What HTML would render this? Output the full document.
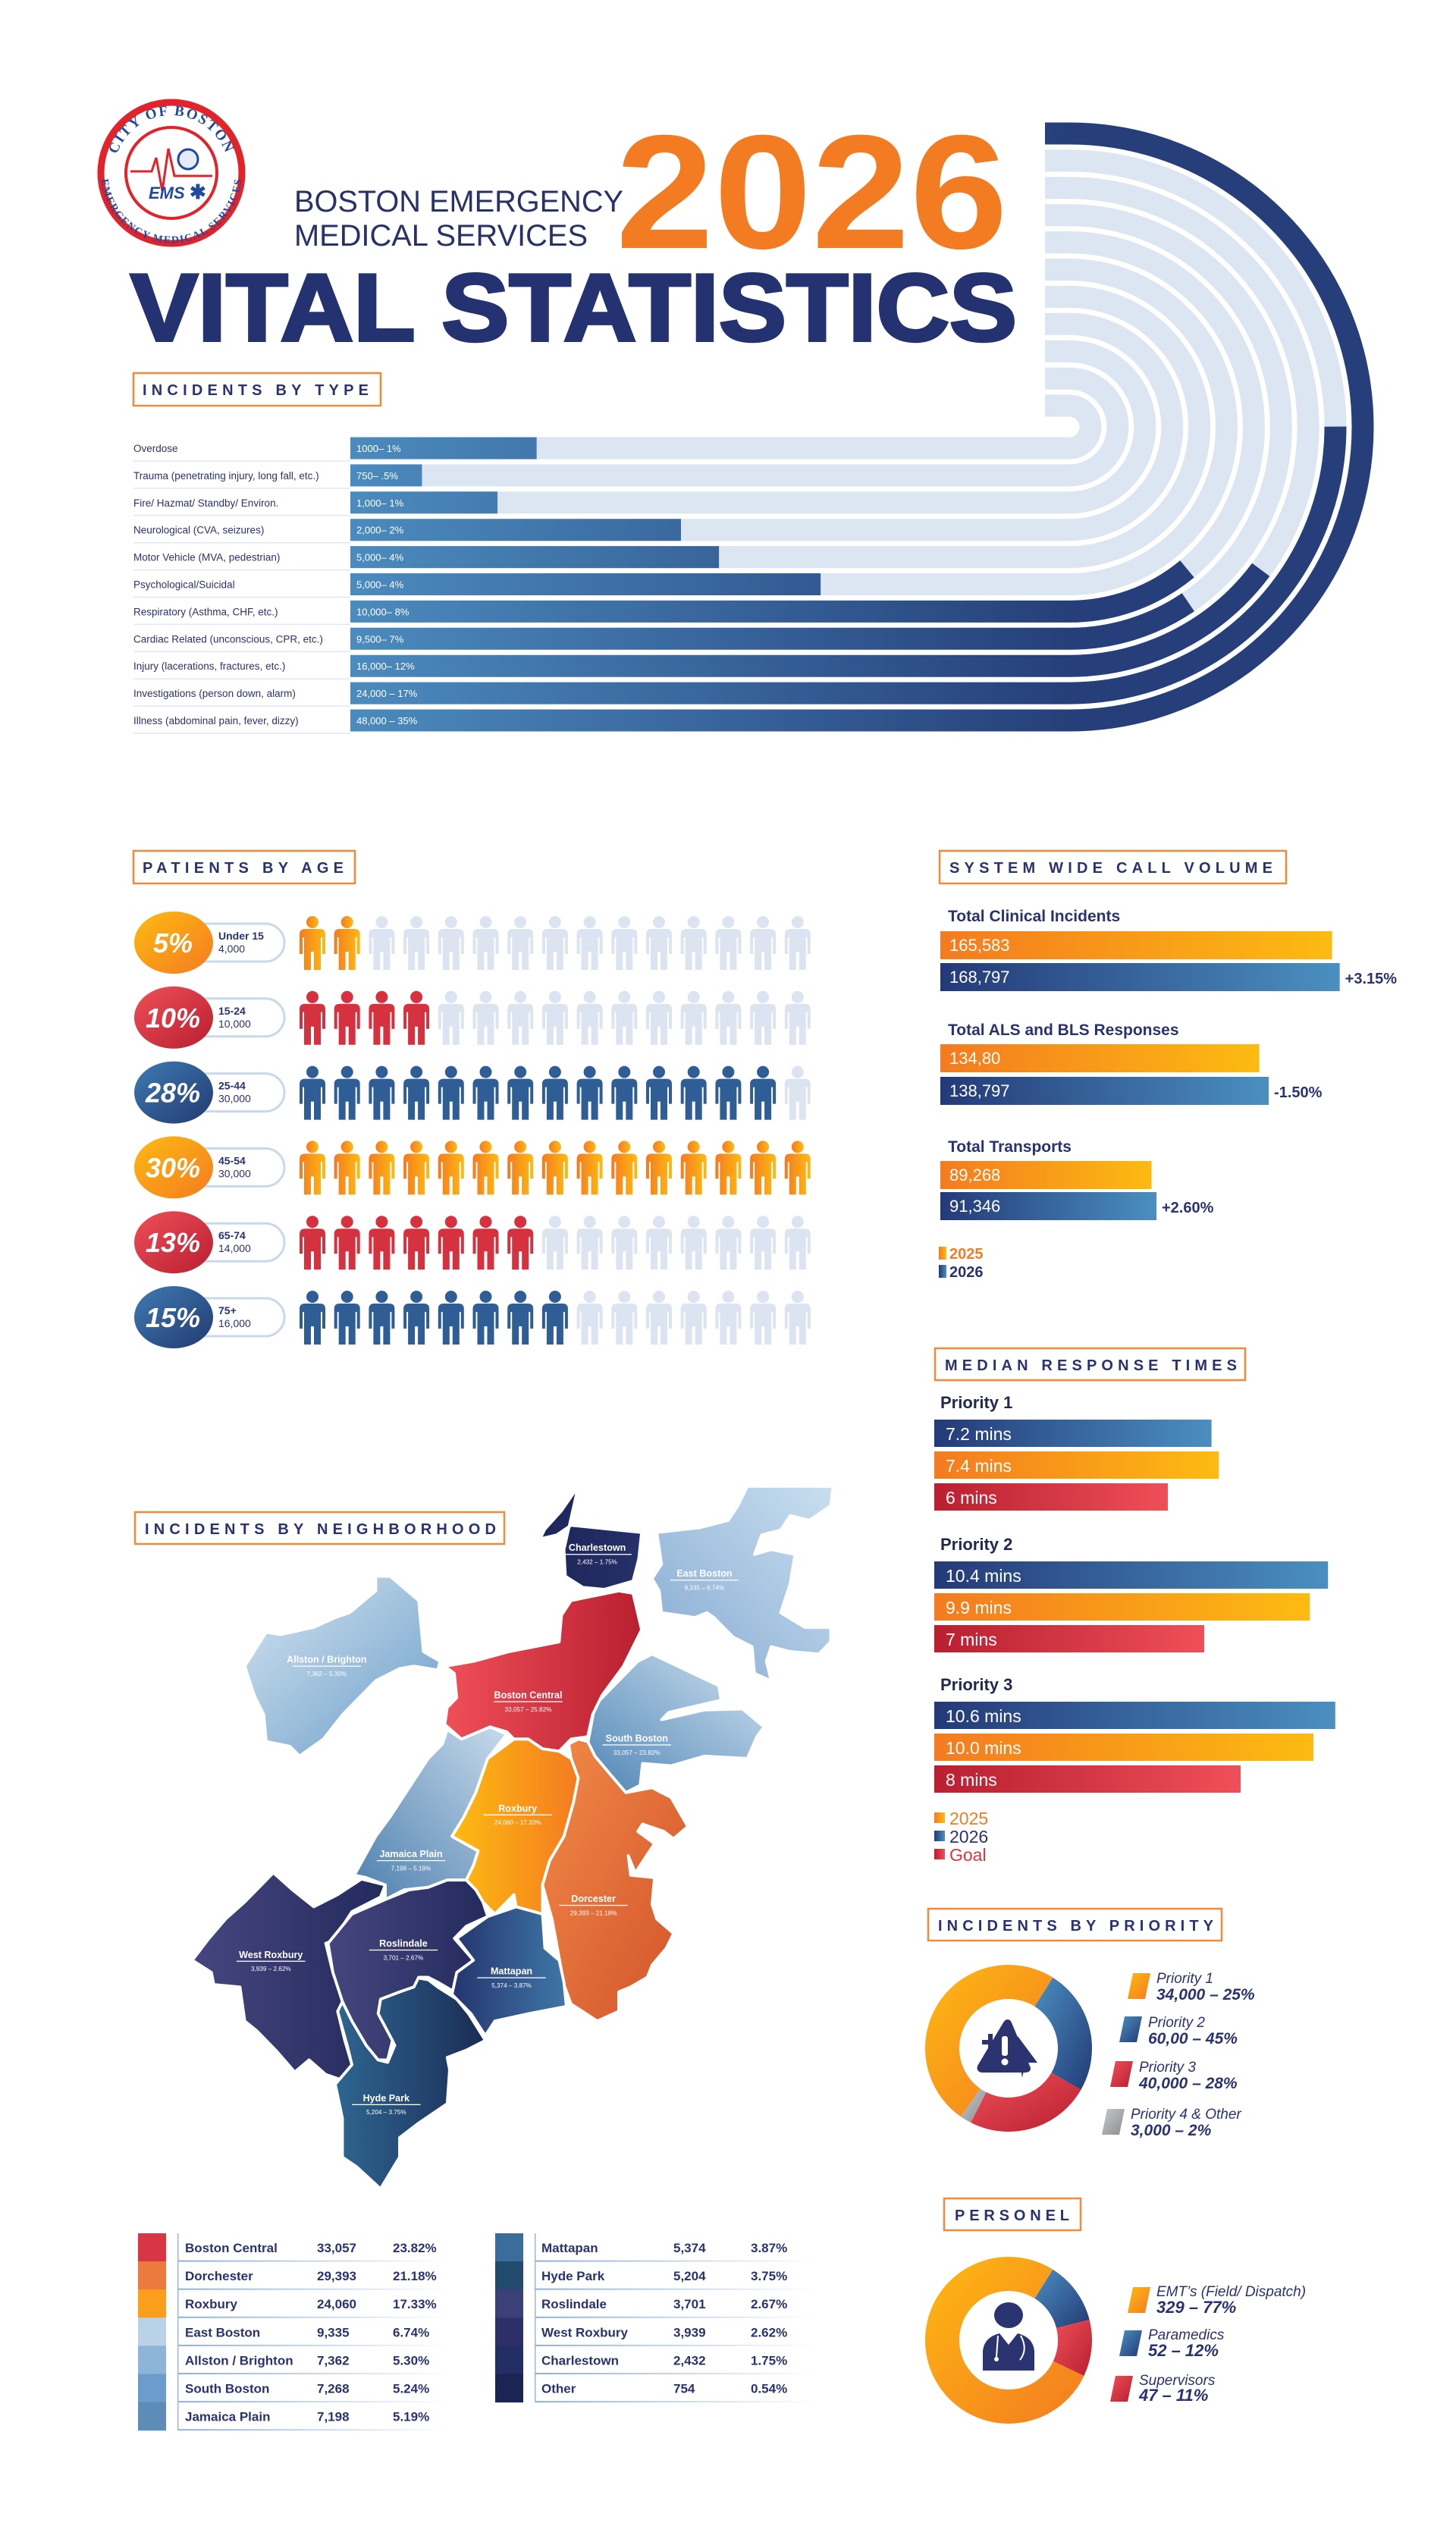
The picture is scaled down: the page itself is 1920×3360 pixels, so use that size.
<!DOCTYPE html>
<html><head><meta charset="utf-8"><title>Boston EMS 2026 Vital Statistics</title>
<style>
html,body{margin:0;padding:0;background:#fff;}
svg{display:block;font-family:"Liberation Sans",sans-serif;}
</style></head>
<body>
<svg id="root" xmlns="http://www.w3.org/2000/svg" width="1920" height="3360" viewBox="0 0 1920 3360">
<defs>
  <linearGradient id="gInc" gradientUnits="userSpaceOnUse" x1="462" y1="0" x2="1410" y2="0"><stop offset="0" stop-color="#4b8bbe"/><stop offset="1" stop-color="#263f7a"/></linearGradient>
  <linearGradient id="gBlue" x1="0" y1="0" x2="1" y2="0"><stop offset="0" stop-color="#243a78"/><stop offset="1" stop-color="#4b8fc0"/></linearGradient>
  <linearGradient id="gOrange" x1="0" y1="0" x2="1" y2="0"><stop offset="0" stop-color="#f47b20"/><stop offset="1" stop-color="#fdbb12"/></linearGradient>
  <linearGradient id="gRed" x1="0" y1="0" x2="1" y2="0"><stop offset="0" stop-color="#b91f30"/><stop offset="1" stop-color="#ef4f58"/></linearGradient>
  <linearGradient id="gOrangeD" x1="0" y1="0" x2="1" y2="1"><stop offset="0" stop-color="#fdb913"/><stop offset="1" stop-color="#f47b20"/></linearGradient>
  <linearGradient id="gBlueD" x1="0" y1="0" x2="1" y2="1"><stop offset="0" stop-color="#4b8fc0"/><stop offset="1" stop-color="#233a76"/></linearGradient>
  <linearGradient id="gRedD" x1="0" y1="0" x2="1" y2="1"><stop offset="0" stop-color="#ef4f58"/><stop offset="1" stop-color="#b91f30"/></linearGradient>
  <linearGradient id="gGrey" x1="0" y1="0" x2="1" y2="1"><stop offset="0" stop-color="#c8c9cc"/><stop offset="1" stop-color="#8a8c90"/></linearGradient>
  <linearGradient id="gCircOr" x1="0" y1="0" x2="1" y2="1"><stop offset="0" stop-color="#fdbb12"/><stop offset="1" stop-color="#f47b20"/></linearGradient>
  <linearGradient id="gCircRed" x1="0" y1="0" x2="1" y2="1"><stop offset="0" stop-color="#ef4f58"/><stop offset="1" stop-color="#b91f30"/></linearGradient>
  <linearGradient id="gCircBlue" x1="0" y1="0" x2="1" y2="1"><stop offset="0" stop-color="#3f7bb2"/><stop offset="1" stop-color="#223a72"/></linearGradient>
  <linearGradient id="mLight" x1="0" y1="0" x2="1" y2="1"><stop offset="0" stop-color="#d4e4f1"/><stop offset="1" stop-color="#6a9dc8"/></linearGradient>
  <linearGradient id="mEast" x1="1" y1="0" x2="0" y2="1"><stop offset="0" stop-color="#c9dff0"/><stop offset="1" stop-color="#86aad2"/></linearGradient>
  <linearGradient id="mSouth" x1="1" y1="0" x2="0" y2="1"><stop offset="0" stop-color="#cfe1f0"/><stop offset="1" stop-color="#4f86b6"/></linearGradient>
  <linearGradient id="mRed" x1="0" y1="0" x2="1" y2="0"><stop offset="0" stop-color="#ef4f58"/><stop offset="1" stop-color="#b91f30"/></linearGradient>
  <linearGradient id="mRox" x1="0" y1="0" x2="1" y2="0"><stop offset="0" stop-color="#fdbb12"/><stop offset="1" stop-color="#f47b20"/></linearGradient>
  <linearGradient id="mDor" x1="0" y1="0" x2="1" y2="1"><stop offset="0" stop-color="#f28a48"/><stop offset="1" stop-color="#d2522a"/></linearGradient>
  <linearGradient id="mJP" x1="1" y1="0" x2="0" y2="1"><stop offset="0" stop-color="#c7dbec"/><stop offset="1" stop-color="#4d7fae"/></linearGradient>
  <linearGradient id="mNavy" x1="0" y1="0" x2="1" y2="0"><stop offset="0" stop-color="#46467e"/><stop offset="1" stop-color="#232a5c"/></linearGradient>
  <linearGradient id="mHyde" x1="0" y1="0" x2="1" y2="0"><stop offset="0" stop-color="#2e6690"/><stop offset="1" stop-color="#1a2c55"/></linearGradient>
  <linearGradient id="mMatt" x1="0" y1="0" x2="1" y2="0"><stop offset="0" stop-color="#24346e"/><stop offset="1" stop-color="#3f78a8"/></linearGradient>
  <linearGradient id="mCharl" x1="0" y1="0" x2="1" y2="0"><stop offset="0" stop-color="#1c2658"/><stop offset="1" stop-color="#26306a"/></linearGradient>
  <linearGradient id="lineFade" x1="0" y1="0" x2="1" y2="0"><stop offset="0" stop-color="#8fb0d6"/><stop offset="1" stop-color="#ffffff"/></linearGradient>
  <path id="logoTop" d="M150,228 A76,76 0 0 1 302,228"/>
  <path id="logoBot" d="M142,228 A84,84 0 0 0 310,228"/>
</defs>

<!-- ===== HEADER ===== -->
<g>
  <circle cx="226" cy="228" r="93" fill="#fff" stroke="#e2232a" stroke-width="9"/>
  <circle cx="226" cy="228" r="60" fill="#fff" stroke="#e2232a" stroke-width="4"/>
  <text font-size="19" font-weight="700" fill="#1f4aa0" font-family="Liberation Serif,serif" letter-spacing="2"><textPath href="#logoTop" startOffset="50%" text-anchor="middle">CITY OF BOSTON</textPath></text>
  <text font-size="14" font-weight="700" fill="#1f4aa0" font-family="Liberation Serif,serif" letter-spacing="0.5"><textPath href="#logoBot" startOffset="50%" text-anchor="middle" dominant-baseline="hanging">EMERGENCY MEDICAL SERVICES</textPath></text>
  <path d="M172,226 L200,226 L206,208 L214,252 L222,196 L230,232 L280,232" fill="none" stroke="#e2232a" stroke-width="3"/>
  <circle cx="248" cy="210" r="13" fill="#e6ecf5" stroke="#1f4aa0" stroke-width="3"/>
  <text x="196" y="262" font-size="22" font-weight="700" font-style="italic" fill="#1f4aa0">EMS</text>
  <text x="250" y="262" font-size="26" font-weight="700" fill="#1f4aa0">✱</text>
</g>
<text x="388" y="279" font-size="40" fill="#283269" textLength="434" lengthAdjust="spacingAndGlyphs">BOSTON EMERGENCY</text>
<text x="388" y="324" font-size="40" fill="#283269" textLength="387" lengthAdjust="spacingAndGlyphs">MEDICAL SERVICES</text>
<text x="812" y="327" font-size="214" font-weight="700" fill="#f37c22" textLength="517" lengthAdjust="spacingAndGlyphs">2026</text>
<text x="172" y="449" font-size="126" font-weight="700" fill="#253271" stroke="#253271" stroke-width="4" textLength="1169" lengthAdjust="spacingAndGlyphs">VITAL STATISTICS</text>

<g id="secHeaders"></g>
<g id="incType"></g>
<g id="ageChart"></g>
<g id="callChart"></g>
<g id="medChart"></g>
<g id="donut1"></g>
<g id="donut2"></g>

<!-- ===== MAP ===== -->
<g transform="translate(150,1960) scale(0.6282,0.641)" stroke="#fff" stroke-width="6" stroke-linejoin="round">
  <path fill="url(#mCharl)" d="M975,0 L940,50 L905,88 L895,108 L930,100 L960,80 L1108,95 L1102,150 L1090,195 L1030,212 L985,208 L948,185 L945,130 Z"/>
  <path fill="url(#mEast)" d="M1140,95 L1230,85 L1290,70 L1310,40 L1330,0 L1510,0 L1505,40 L1460,70 L1420,60 L1400,90 L1360,100 L1345,140 L1380,130 L1430,140 L1420,200 L1400,260 L1450,290 L1505,290 L1505,320 L1480,345 L1420,340 L1380,330 L1370,360 L1380,400 L1345,385 L1340,330 L1300,310 L1260,270 L1245,260 L1220,270 L1150,260 L1145,215 L1130,190 L1150,160 Z"/>
  <path fill="url(#mLight)" d="M275,370 L320,300 L350,305 L420,290 L465,270 L495,260 L550,215 L550,185 L580,185 L640,235 L650,340 L685,360 L680,378 L630,370 L600,375 L550,400 L480,470 L440,520 L390,555 L370,535 L320,525 L315,470 L295,430 Z"/>
  <path fill="url(#mSouth)" d="M1100,360 L1130,345 L1270,410 L1275,440 L1165,465 L1150,480 L1240,460 L1320,458 L1365,495 L1350,515 L1330,560 L1240,555 L1170,575 L1110,570 L1105,615 L1075,630 L1040,590 L1010,555 L995,530 L1010,450 L1050,410 Z"/>
  <path fill="url(#mRed)" d="M960,235 L1060,215 L1090,220 L1108,295 L1070,370 L1025,430 L1005,470 L995,515 L960,520 L935,545 L900,540 L870,520 L840,520 L825,505 L790,495 L730,520 L695,490 L700,455 L720,435 L715,385 L695,370 L755,360 L830,340 L935,320 L940,265 Z"/>
  <path fill="url(#mJP)" d="M700,500 L730,520 L790,495 L825,510 L785,560 L760,630 L735,680 L710,720 L765,750 L755,780 L740,810 L700,810 L660,825 L610,830 L570,850 L570,820 L530,805 L505,800 L550,720 L580,680 L620,620 L660,560 L690,530 Z"/>
  <path fill="url(#mDor)" d="M955,530 L975,520 L995,525 L1010,555 L1040,590 L1075,630 L1130,620 L1170,640 L1205,700 L1175,725 L1155,710 L1110,695 L1100,710 L1135,735 L1105,780 L1095,795 L1080,760 L1085,800 L1135,805 L1130,860 L1140,890 L1175,920 L1160,950 L1130,985 L1120,1010 L1085,1030 L1060,1040 L1060,1080 L1015,1100 L960,1065 L945,1025 L935,970 L920,890 L900,820 L915,770 L945,720 L965,650 L975,600 L960,560 Z"/>
  <path fill="url(#mRox)" d="M840,520 L870,520 L900,540 L935,545 L960,560 L975,600 L965,650 L945,720 L915,770 L900,820 L900,880 L845,865 L840,840 L800,880 L775,855 L760,830 L740,810 L755,780 L765,750 L710,720 L735,680 L760,630 L785,560 Z"/>
  <path fill="url(#mNavy)" d="M165,975 L200,930 L235,890 L275,855 L335,795 L375,830 L420,865 L470,840 L520,808 L570,820 L560,845 L500,875 L460,935 L445,940 L460,1000 L495,1040 L470,1080 L485,1140 L500,1190 L475,1220 L445,1210 L410,1180 L380,1205 L340,1160 L300,1120 L275,1100 L265,1030 L210,1025 L205,1000 Z"/>
  <path fill="url(#mHyde)" d="M480,1060 L500,1100 L530,1150 L555,1180 L575,1185 L590,1150 L555,1085 L560,1055 L600,1040 L625,1030 L630,1010 L660,1015 L680,1030 L720,1055 L745,1085 L780,1140 L740,1160 L700,1175 L705,1200 L700,1270 L640,1310 L600,1340 L600,1380 L560,1445 L510,1400 L480,1380 L480,1300 L465,1230 L500,1190 L490,1150 L470,1080 Z"/>
  <path fill="url(#mNavy)" d="M570,850 L620,830 L660,825 L700,810 L740,810 L760,830 L775,855 L785,885 L740,905 L715,930 L755,975 L730,1000 L715,1040 L680,1020 L660,1010 L640,1010 L630,1030 L600,1040 L560,1055 L555,1085 L585,1140 L575,1180 L555,1180 L530,1150 L500,1100 L480,1060 L460,1000 L450,940 L500,880 Z"/>
  <path fill="url(#mMatt)" d="M800,880 L845,865 L900,880 L905,950 L935,975 L945,1020 L950,1070 L870,1085 L800,1100 L780,1130 L750,1085 L710,1045 L720,1000 L755,975 L720,930 L785,885 Z"/>
  <g id="mapLabels" stroke="none"></g>
</g>

<g id="nbTable"></g>

<script>
// ---------- DATA ----------
var incCategories = ["Overdose","Trauma  (penetrating injury, long fall, etc.)","Fire/ Hazmat/ Standby/ Environ.","Neurological (CVA, seizures)","Motor Vehicle (MVA, pedestrian)","Psychological/Suicidal","Respiratory (Asthma, CHF, etc.)","Cardiac Related  (unconscious, CPR, etc.)","Injury  (lacerations, fractures, etc.)","Investigations  (person down, alarm)","Illness (abdominal pain, fever, dizzy)"];
var incLabels = ["1000– 1%","750– .5%","1,000– 1%","2,000– 2%","5,000– 4%","5,000– 4%","10,000– 8%","9,500– 7%","16,000– 12%","24,000 – 17%","48,000 – 35%"];
var incFillPct = [23, 8, 15, 31, 32, 38, 64, 60, 63, 72, 100];

var ageShare = ["5%","10%","28%","30%","13%","15%"];
var ageGroups = ["Under 15","15-24","25-44","45-54","65-74","75+"];
var ageCounts = ["4,000","10,000","30,000","30,000","14,000","16,000"];
var ageIcons = [2, 4, 14, 15, 7, 8];

var callCategories = ["Total Clinical Incidents","Total ALS and BLS Responses","Total Transports"];
var call2025 = [165583, 134800, 89268];
var call2025Labels = ["165,583","134,80","89,268"];
var call2026 = [168797, 138797, 91346];
var call2026Labels = ["168,797","138,797","91,346"];
var callChange = ["+3.15%","-1.50%","+2.60%"];

var medPriorities = ["Priority 1","Priority 2","Priority 3"];
var med2026 = [7.2, 10.4, 10.6];
var med2026Labels = ["7.2 mins","10.4 mins","10.6 mins"];
var med2025 = [7.4, 9.9, 10.0];
var med2025Labels = ["7.4 mins","9.9 mins","10.0 mins"];
var medGoal = [6, 7, 8];
var medGoalLabels = ["6 mins","7 mins","8 mins"];

var prioNames = ["Priority 2","Priority 3","Priority 4 & Other","Priority 1"];
var prioSlice = [24.4, 24.2, 2.2, 49.2];
var prioLegendNames = ["Priority 1","Priority 2","Priority 3","Priority 4 & Other"];
var prioLegendValues = ["34,000 – 25%","60,00 – 45%","40,000 – 28%","3,000 – 2%"];

var staffNames = ["Paramedics","Supervisors","EMT's (Field/ Dispatch)"];
var staffCounts = [52, 47, 329];
var staffLegendNames = ["EMT’s (Field/ Dispatch)","Paramedics","Supervisors"];
var staffLegendValues = ["329 – 77%","52 – 12%","47 – 11%"];

var nbLeftNames = ["Boston Central","Dorchester","Roxbury","East Boston","Allston / Brighton","South Boston","Jamaica Plain"];
var nbLeftCounts = ["33,057","29,393","24,060","9,335","7,362","7,268","7,198"];
var nbLeftPct = ["23.82%","21.18%","17.33%","6.74%","5.30%","5.24%","5.19%"];
var nbRightNames = ["Mattapan","Hyde Park","Roslindale","West Roxbury","Charlestown","Other"];
var nbRightCounts = ["5,374","5,204","3,701","3,939","2,432","754"];
var nbRightPct = ["3.87%","3.75%","2.67%","2.62%","1.75%","0.54%"];

var mapNames = ["Charlestown","East Boston","Allston / Brighton","Boston Central","South Boston","Roxbury","Jamaica Plain","Dorcester","West Roxbury","Roslindale","Mattapan","Hyde Park"];
var mapValues = ["2,432 – 1.75%","9,335 – 6.74%","7,362 – 5.30%","33,057 – 25.82%","33,057 – 23.82%","24,060 – 17.33%","7,198 – 5.19%","29,393 – 21.18%","3,939 – 2.62%","3,701 – 2.67%","5,374 – 3.87%","5,204 – 3.75%"];

// ---------- HELPERS ----------
var NS = "http://www.w3.org/2000/svg";
function mk(tag, attrs, parent) {
  var e = document.createElementNS(NS, tag);
  for (var k in attrs) e.setAttribute(k, attrs[k]);
  if (parent) parent.appendChild(e);
  return e;
}
function txt(str, attrs, parent) { var t = mk("text", attrs, parent); t.textContent = str; return t; }
var NAVY = "#2a3270";

// ---------- SECTION HEADERS ----------
var secs = [
  ["INCIDENTS BY TYPE",176,492,326,43,188,298,"header-incidents-by-type"],
  ["PATIENTS BY AGE",176,1122,292,43,188,265,"header-patients-by-age"],
  ["SYSTEM WIDE CALL VOLUME",1239,1122,457,43,1252,426,"header-call-volume"],
  ["MEDIAN RESPONSE TIMES",1233,1778,409,42,1246,385,"header-median-response"],
  ["INCIDENTS BY PRIORITY",1224,2517,387,42,1237,363,"header-incidents-by-priority"],
  ["PERSONEL",1245,2899,180,42,1259,151,"header-personnel"],
  ["INCIDENTS BY NEIGHBORHOOD",178,1994,487,42,191,463,"header-incidents-by-neighborhood"]
];
var sh = document.getElementById("secHeaders");
secs.forEach(function(s){
  var g = mk("g", {}, sh);
  
  
  mk("rect",{x:s[1],y:s[2],width:s[3],height:s[4],fill:"#fff",stroke:"#f28a3a","stroke-width":2.5},g);
  txt(s[0],{x:s[5],y:s[2]+29,"font-size":20,"font-weight":700,fill:NAVY,textLength:s[6],lengthAdjust:"spacing"},g);
});

// ---------- INCIDENTS BY TYPE ----------
(function(){
  var g = document.getElementById("incType");
  var cx = 1410, cy = 563, x0 = 462, xTop = 1378, pitch = 35.9, y0 = 591, sw = 29;
  function yRow(i){ return y0 + i*pitch; }
  for (var i = 0; i < incCategories.length; i++) {
    var yb = yRow(i), r = yb - cy, yt = cy - r;
    var d = "M"+x0+","+yb+" L"+cx+","+yb+" A"+r+","+r+" 0 0 0 "+cx+","+yt+" L"+xTop+","+yt;
    var L = (cx-x0) + Math.PI*r + (cx-xTop);
    var track = mk("path",{d:d,fill:"none",stroke:"#dce5f2","stroke-width":sw},g);
    
    
    var fl = L * incFillPct[i] / 100;
    var bar = mk("path",{d:d,fill:"none",stroke:"url(#gInc)","stroke-width":sw,"stroke-dasharray":fl+" "+(L+10)},g);
    
    
    var lab = txt(incCategories[i],{x:176,y:yb+5,"font-size":13.5,fill:NAVY},g);
    
    
    mk("line",{x1:176,x2:462,y1:yb+17,y2:yb+17,stroke:"#e2e8f2","stroke-width":1.5},g);
    var v = txt(incLabels[i],{x:470,y:yb+5,"font-size":13,fill:"#fff"},g);
    
    
  }
})();

// ---------- PATIENTS BY AGE ----------
(function(){
  var g = document.getElementById("ageChart");
  var fills = ["url(#gOrange)","#d5313f","#2f5e96","url(#gOrange)","#d5313f","#2f5e96"];
  var circ = ["url(#gCircOr)","url(#gCircRed)","url(#gCircBlue)","url(#gCircOr)","url(#gCircRed)","url(#gCircBlue)"];
  function person(cx, top, fill, parent){
    var p = "M"+(cx-17)+","+(top+24)+" Q"+(cx-17)+","+(top+17)+" "+(cx-10)+","+(top+17)+" L"+(cx+10)+","+(top+17)+" Q"+(cx+17)+","+(top+17)+" "+(cx+17)+","+(top+24)+
      " L"+(cx+17)+","+(top+50)+" L"+(cx+13)+","+(top+50)+" L"+(cx+13)+","+(top+28)+" L"+(cx+11)+","+(top+28)+" L"+(cx+11)+","+(top+71)+" L"+(cx+2)+","+(top+71)+
      " L"+(cx+2)+","+(top+47)+" L"+(cx-2)+","+(top+47)+" L"+(cx-2)+","+(top+71)+" L"+(cx-11)+","+(top+71)+" L"+(cx-11)+","+(top+28)+" L"+(cx-13)+","+(top+28)+
      " L"+(cx-13)+","+(top+50)+" L"+(cx-17)+","+(top+50)+" Z";
    var ig = mk("g",{},parent);
    
    
    mk("circle",{cx:cx,cy:top+8,r:8,fill:fill},ig);
    mk("path",{d:p,fill:fill},ig);
  }
  for (var i = 0; i < ageShare.length; i++) {
    var yc = 1243 + i*98.8;
    var row = mk("g",{},g);
    
    
    mk("rect",{x:236,y:yc-25,width:139,height:50,rx:25,fill:"#fff",stroke:"#c9d8ea","stroke-width":3},row);
    mk("ellipse",{cx:229,cy:yc,rx:52,ry:41,fill:circ[i]},row);
    txt(ageShare[i],{x:228,y:yc+13,"font-size":36,"font-weight":700,"font-style":"italic",fill:"#fff","text-anchor":"middle"},row);
    txt(ageGroups[i],{x:288,y:yc-4,"font-size":14,"font-weight":700,fill:NAVY},row);
    txt(ageCounts[i],{x:288,y:yc+13,"font-size":14,fill:NAVY},row);
    for (var j = 0; j < 15; j++) {
      person(412 + j*45.7, yc-35, j < ageIcons[i] ? fills[i] : "#dde4f1", row);
    }
  }
})();

// ---------- CALL VOLUME ----------
(function(){
  var g = document.getElementById("callChart");
  var xs = function(v){ return v * 0.00312; };
  var labY = [1215,1365,1519], b1 = [1228,1377,1531], b2 = [1270,1420,1572];
  for (var i = 0; i < callCategories.length; i++) {
    var t = txt(callCategories[i],{x:1250,y:labY[i],"font-size":21,"font-weight":700,fill:NAVY},g);
    
    
    var r1 = mk("rect",{x:1240,y:b1[i],width:xs(call2025[i]),height:37,fill:"url(#gOrange)"},g);
    
    
    txt(call2025Labels[i],{x:1252,y:b1[i]+26,"font-size":22,fill:"#fff"},g);
    var w2 = xs(call2026[i]);
    var r2 = mk("rect",{x:1240,y:b2[i],width:w2,height:37,fill:"url(#gBlue)"},g);
    
    
    txt(call2026Labels[i],{x:1252,y:b2[i]+26,"font-size":22,fill:"#fff"},g);
    var c = txt(callChange[i],{x:1240+w2+7,y:b2[i]+27,"font-size":20,"font-weight":700,fill:NAVY},g);
    
    
  }
  var lg = mk("g",{},g);
  
  
  mk("rect",{x:1238,y:1644,width:10,height:17,fill:"url(#gOrange)"},lg);
  txt("2025",{x:1252,y:1660,"font-size":20,"font-weight":700,fill:"#f47b20"},lg);
  mk("rect",{x:1238,y:1668,width:10,height:17,fill:"url(#gBlue)"},lg);
  txt("2026",{x:1252,y:1684,"font-size":20,"font-weight":700,fill:NAVY},lg);
})();

// ---------- MEDIAN RESPONSE ----------
(function(){
  var g = document.getElementById("medChart");
  var xs = function(v){ return 20 + 48 * v; };
  var tops = [1872, 2059, 2244], labY = [1857, 2044, 2229];
  for (var i = 0; i < medPriorities.length; i++) {
    var t = txt(medPriorities[i],{x:1240,y:labY[i],"font-size":22,"font-weight":700,fill:"#23284f"},g);
    
    
    var sets = [[med2026,med2026Labels,"url(#gBlue)","median-bar-2026"],[med2025,med2025Labels,"url(#gOrange)","median-bar-2025"],[medGoal,medGoalLabels,"url(#gRed)","median-bar-goal"]];
    for (var k = 0; k < 3; k++) {
      var y = tops[i] + k*42;
      var r = mk("rect",{x:1232,y:y,width:xs(sets[k][0][i]),height:36,fill:sets[k][2]},g);
      
      
      txt(sets[k][1][i],{x:1247,y:y+27,"font-size":23,fill:"#fff"},g);
    }
  }
  var lg = mk("g",{},g);
  
  
  var items = [["2025","url(#gOrange)","#f47b20"],["2026","url(#gBlue)",NAVY],["Goal","url(#gRed)","#e5313f"]];
  items.forEach(function(it, k){
    mk("rect",{x:1232,y:2390+k*24,width:14,height:14,fill:it[1]},lg);
    txt(it[0],{x:1252,y:2406+k*24,"font-size":23,fill:it[2]},lg);
  });
})();

// ---------- DONUTS ----------
function arcPath(cx, cy, R, r, a0, a1) {
  function pt(rad, a){ var t = (a-90)*Math.PI/180; return [cx + rad*Math.cos(t), cy + rad*Math.sin(t)]; }
  var big = (a1 - a0) > 180 ? 1 : 0;
  var p1 = pt(R,a0), p2 = pt(R,a1), p3 = pt(r,a1), p4 = pt(r,a0);
  return "M"+p1+" A"+R+","+R+" 0 "+big+" 1 "+p2+" L"+p3+" A"+r+","+r+" 0 "+big+" 0 "+p4+" Z";
}
function swatch(x, y, fill, parent){
  mk("polygon",{points:(x+7)+","+y+" "+(x+30)+","+y+" "+(x+23)+","+(y+34)+" "+x+","+(y+34),fill:fill},parent);
}
(function(){
  var g = document.getElementById("donut1");
  var cx = 1330, cy = 2701, fills = ["url(#gBlueD)","url(#gRedD)","url(#gGrey)","url(#gOrangeD)"];
  var total = prioSlice.reduce(function(a,b){return a+b;},0), a = 32;
  for (var i = 0; i < prioSlice.length; i++) {
    var sweep = prioSlice[i]/total*360;
    var s = mk("path",{d:arcPath(cx,cy,110,65,a,a+sweep),fill:fills[i]},g);
    
    
    a += sweep;
  }
  var ic = mk("g",{},g);
  
  
  mk("path",{d:"M1326,2668 L1292,2725 Q1290,2730 1296,2730 L1352,2730 Q1358,2730 1355,2725 L1331,2668 Q1329,2664 1326,2668 Z",fill:"#2b3370",stroke:"#2b3370","stroke-width":6,"stroke-linejoin":"round"},ic);
  mk("rect",{x:1321,y:2685,width:8,height:26,rx:3,fill:"#fff"},ic);
  mk("circle",{cx:1325,cy:2719,r:4.5,fill:"#fff"},ic);
  mk("path",{d:"M1295,2690 h8 v-8 h6 v8 h8 v6 h-8 v8 h-6 v-8 h-8 z",fill:"#2b3370"},ic);
  mk("path",{d:"M1342,2685 L1368,2720 L1352,2720 L1348,2740 L1342,2700 Z",fill:"#2b3370"},ic);
  var sw = [["url(#gOrangeD)",1487,2602,1525,2615,2637],["url(#gBlueD)",1476,2659,1514,2673,2695],["url(#gRedD)",1464,2718,1502,2732,2754],["url(#gGrey)",1453,2781,1491,2794,2816]];
  for (var k = 0; k < sw.length; k++) {
    var lg = mk("g",{},g);
    
    
    swatch(sw[k][1], sw[k][2], sw[k][0], lg);
    txt(prioLegendNames[k],{x:sw[k][3],y:sw[k][4],"font-size":19,"font-style":"italic",fill:NAVY},lg);
    txt(prioLegendValues[k],{x:sw[k][3],y:sw[k][5],"font-size":21,"font-weight":700,"font-style":"italic",fill:NAVY},lg);
  }
})();
(function(){
  var g = document.getElementById("donut2");
  var cx = 1330, cy = 3086, fills = ["url(#gBlueD)","url(#gRedD)","url(#gOrangeD)"];
  var total = staffCounts.reduce(function(a,b){return a+b;},0), a = 32;
  for (var i = 0; i < staffCounts.length; i++) {
    var sweep = staffCounts[i]/total*360;
    var s = mk("path",{d:arcPath(cx,cy,110,65,a,a+sweep),fill:fills[i]},g);
    
    
    a += sweep;
  }
  var ic = mk("g",{},g);
  
  
  mk("ellipse",{cx:1330,cy:3053,rx:19,ry:17,fill:"#2b3370"},ic);
  mk("path",{d:"M1296,3126 L1296,3100 Q1298,3082 1318,3077 L1330,3092 L1342,3077 Q1362,3082 1364,3100 L1364,3126 Z",fill:"#2b3370"},ic);
  mk("path",{d:"M1316,3080 L1314,3108 M1346,3080 Q1356,3098 1345,3112",fill:"none",stroke:"#fff","stroke-width":2},ic);
  mk("circle",{cx:1314,cy:3111,r:3,fill:"#fff"},ic);
  var sw = [["url(#gOrangeD)",1487,3016,1525,3028,3050],["url(#gBlueD)",1476,3073,1514,3085,3107],["url(#gRedD)",1464,3133,1502,3145,3166]];
  for (var k = 0; k < sw.length; k++) {
    var lg = mk("g",{},g);
    
    
    swatch(sw[k][1], sw[k][2], sw[k][0], lg);
    txt(staffLegendNames[k],{x:sw[k][3],y:sw[k][4],"font-size":19,"font-style":"italic",fill:NAVY},lg);
    txt(staffLegendValues[k],{x:sw[k][3],y:sw[k][5],"font-size":22,"font-weight":700,"font-style":"italic",fill:NAVY},lg);
  }
})();

// ---------- MAP LABELS ----------
(function(){
  var g = document.getElementById("mapLabels");
  var pos = [[1015,127],[1240,180],[447,357],[870,430],[1098,519],[848,663],[624,757],[1007,849],[330,964],[608,941],[835,998],[572,1259]];
  for (var i = 0; i < mapNames.length; i++) {
    var lg = mk("g",{},g);
    
    
    txt(mapNames[i],{x:pos[i][0],y:pos[i][1]+6,"font-size":20,"font-weight":700,fill:"#fff","text-anchor":"middle"},lg);
    mk("rect",{x:pos[i][0]-72,y:pos[i][1]+12,width:144,height:2,fill:"#fff"},lg);
    txt(mapValues[i],{x:pos[i][0],y:pos[i][1]+33,"font-size":13,fill:"#fff","text-anchor":"middle"},lg);
  }
})();

// ---------- TABLE ----------
(function(){
  var g = document.getElementById("nbTable");
  var top = 2945, ph = 37.1;
  var lc = ["#d83545","#ec7a3e","#fa9e1c","#b9d2e8","#8eb5d9","#6b9ccb","#5d8cb8"];
  var rc = ["#3a6d9c","#224a6c","#3c3f78","#2d2f68","#232d66","#1b2452"];
  function col(names, counts, pcts, colors, xs, xb, xn, xv, xp, xe){
    for (var i = 0; i < names.length; i++) {
      var y = top + i*ph;
      var row = mk("g",{},g);
      
      
      mk("rect",{x:xs,y:y,width:37,height:ph+0.5,fill:colors[i]},row);
      txt(names[i],{x:xn,y:y+25,"font-size":17,"font-weight":700,fill:NAVY},row);
      txt(counts[i],{x:xv,y:y+25,"font-size":17,"font-weight":700,fill:NAVY},row);
      txt(pcts[i],{x:xp,y:y+25,"font-size":17,"font-weight":700,fill:NAVY},row);
      mk("rect",{x:xb,y:y+ph-1.5,width:xe-xb,height:2,fill:"url(#lineFade)"},row);
    }
    mk("rect",{x:xb,y:top,width:1.5,height:names.length*ph,fill:"#9ab8dc"},g);
  }
  col(nbLeftNames, nbLeftCounts, nbLeftPct, lc, 182, 234, 244, 418, 518, 593);
  col(nbRightNames, nbRightCounts, nbRightPct, rc, 653, 705, 714, 888, 990, 1076);
})();
</script>
</body></html>
